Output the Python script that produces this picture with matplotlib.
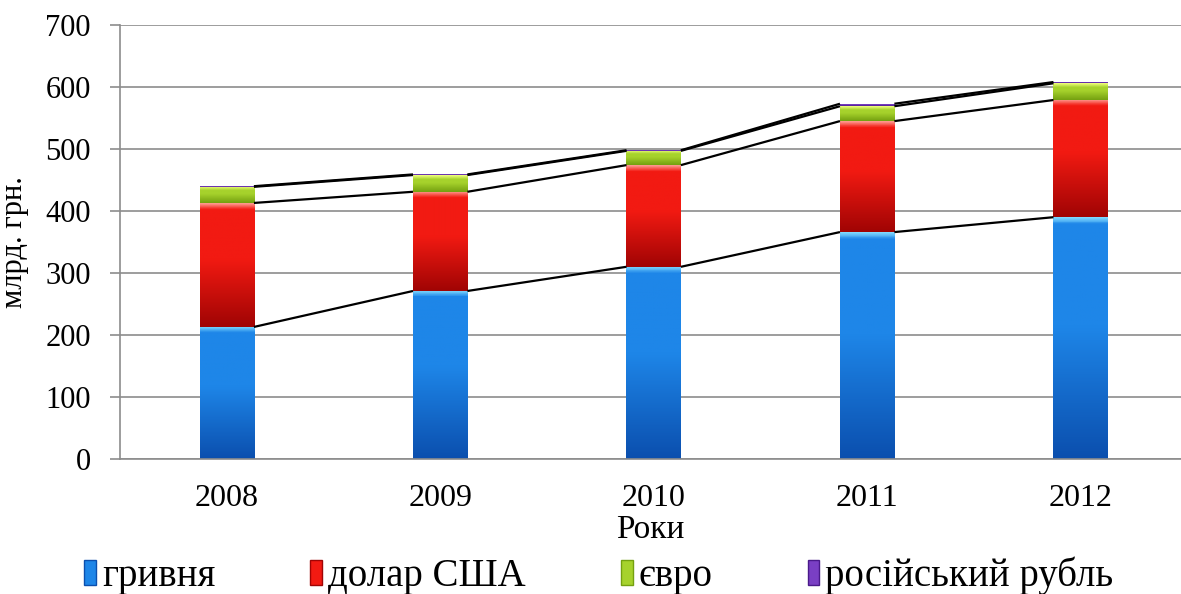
import numpy as np
import matplotlib
matplotlib.use("Agg")
import matplotlib.pyplot as plt
from matplotlib.colors import LinearSegmentedColormap
from matplotlib.patches import Rectangle

plt.rcParams['font.family'] = ['Liberation Serif', 'DejaVu Serif']

years = ['2008', '2009', '2010', '2011', '2012']
hryvnia = [213, 271, 310, 366, 390]
usd = [200, 160, 164, 179, 189]
euro = [26, 27, 23, 24, 27]
rub = [1, 1, 1, 4, 2]

labels = ['гривня', 'долар США', 'євро', 'російський рубль']
# (highlight, main, dark bottom)
colors = [('#7fd8ff', '#1e86e8', '#0b4fae'),
          ('#ff9a90', '#f21a12', '#a00404'),
          ('#f2ff80', '#a6d22c', '#74a010'),
          ('#b48ce6', '#7a3fc4', '#4a1a8a')]

fig = plt.figure(figsize=(11.81, 5.94), dpi=100)
ax = fig.add_axes([0.1016, 0.2273, 0.8984, 0.7306])

x = np.arange(len(years))
width = 0.255
series = [hryvnia, usd, euro, rub]
bottom = np.zeros(len(years))
tops = []
handles = []
for vals, lab, (c1, c2, c3) in zip(series, labels, colors):
    bars = ax.bar(x, vals, width, bottom=bottom, color=c2, edgecolor='none',
                  label=lab, zorder=2)
    for p in bars.patches:
        x0, y0 = p.get_x(), p.get_y()
        w, h = p.get_width(), p.get_height()
        if h <= 0:
            continue
        # thin highlight at the top, then darken toward the bottom
        f = min(0.25, 6.0 / (h * 0.62))
        cmap = LinearSegmentedColormap.from_list(
            'g', [(0, c1), (f, c2), (0.45, c2), (1, c3)])
        grad = np.linspace(0, 1, 200).reshape(-1, 1)
        im = ax.imshow(grad, cmap=cmap, aspect='auto', origin='upper',
                       extent=[x0, x0 + w, y0, y0 + h], zorder=2.5)
        im.set_clip_path(p)
    handles.append(Rectangle((0, 0), 1, 1, facecolor=c2, edgecolor=c3))
    bottom = bottom + np.array(vals)
    tops.append(bottom.copy())

# series lines between bars
for t in tops:
    for i in range(len(years) - 1):
        ax.plot([x[i] + width / 2, x[i + 1] - width / 2], [t[i], t[i + 1]],
                color='black', lw=1.6, zorder=3, solid_capstyle='butt')

ax.set_xlim(-0.5, 4.47)
ax.set_ylim(0, 700)
ax.set_yticks(range(0, 701, 100))
ax.set_xticks(x)
ax.set_xticklabels(years)
ax.yaxis.grid(True, color='#8c8c8c', lw=1.2, zorder=0)
ax.set_axisbelow(True)
for s in ['top', 'right']:
    ax.spines[s].set_visible(False)
for s in ['left', 'bottom']:
    ax.spines[s].set_color('#8c8c8c')
    ax.spines[s].set_linewidth(1.2)
ax.tick_params(axis='y', length=7, color='#8c8c8c', width=1.2, pad=14, labelsize=22)
ax.tick_params(axis='x', length=0, pad=18, labelsize=23)

ax.set_ylabel('млрд. грн.', fontsize=22, labelpad=12)
ax.set_xlabel('Роки', fontsize=24, labelpad=1)

fig.legend(handles, labels, loc='center', bbox_to_anchor=(0.507, 0.03),
           ncol=4, frameon=False, fontsize=28, handlelength=0.3,
           handleheight=0.6, handletextpad=0.15, columnspacing=2.45)

fig.savefig('out.png', dpi=100)
